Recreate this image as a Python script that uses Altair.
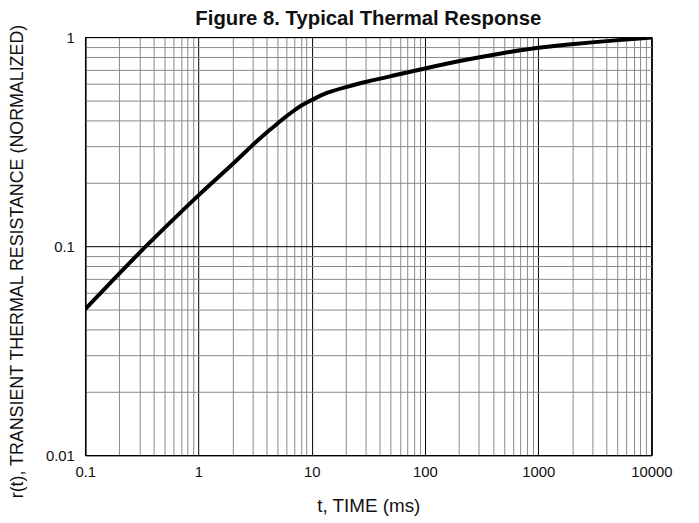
import altair as alt
import pandas as pd

# Curve data
t_ms = [0.1, 0.2, 0.3, 0.5, 1, 2, 3, 4, 5, 6, 7, 8, 10, 13.6, 20, 30, 50, 100, 200, 500, 1000, 2000, 5000, 10000]
r_norm = [0.050, 0.074, 0.093, 0.122, 0.176, 0.246, 0.305, 0.351, 0.386, 0.42, 0.446, 0.47, 0.50, 0.545,
          0.577, 0.612, 0.651, 0.708, 0.77, 0.843, 0.893, 0.927, 0.968, 0.995]

# Grid / tick positions
x_ticks = [round(k * 10.0 ** e, 6) for e in range(-1, 4) for k in range(1, 10)] + [10000]
y_ticks = [round(k * 10.0 ** e, 6) for e in range(-2, 0) for k in range(1, 10)] + [1]
x_labels = ["0.1", "1", "10", "100", "1000", "10000"]
y_labels = ["0.01", "0.1", "1"]

df = pd.DataFrame({"t": t_ms, "r": r_norm})

FONT = "Liberation Sans"
major_test = "abs(log(datum.value)/LN10 - round(log(datum.value)/LN10)) < 1e-6"

x_axis = alt.Axis(
    values=x_ticks,
    format="~g",
    labelExpr="indexof(" + str(x_labels) + ", datum.label) >= 0 ? datum.label : ''",
    labelFont=FONT, labelFontSize=15, labelColor="#111",
    labelOverlap=False, labelFlush=False, labelBound=False,
    labelPadding=10, ticks=False,
    domainColor="#000", domainWidth=1.2,
    grid=True,
    gridColor={"condition": {"test": major_test, "value": "#000"}, "value": "#8a8a8a"},
    gridWidth=1,
    title="t, TIME (ms)", titleFont=FONT, titleFontSize=19, titleFontWeight="normal",
    titleColor="#111", titleBaseline="alphabetic", titleY=57,
)

y_axis = alt.Axis(
    values=y_ticks,
    format="~g",
    labelExpr="indexof(" + str(y_labels) + ", datum.label) >= 0 ? datum.label : ''",
    labelFont=FONT, labelFontSize=15, labelColor="#111",
    labelOverlap=False, labelFlush=False, labelBound=False,
    labelPadding=11, ticks=False,
    domainColor="#000", domainWidth=1.2,
    grid=True,
    gridColor={"condition": {"test": major_test, "value": "#000"}, "value": "#8a8a8a"},
    gridWidth=1,
    title="r(t), TRANSIENT THERMAL RESISTANCE (NORMALIZED)",
    titleFont=FONT, titleFontSize=18, titleFontWeight="normal", titleColor="#111",
    titleBaseline="alphabetic", titleX=-63, titleY=226, titleAngle=270,
)

chart = alt.Chart(df).mark_line(
    color="#000", strokeWidth=4, interpolate="basis", clip=True
).encode(
    x=alt.X("t:Q", scale=alt.Scale(type="log", domain=[0.1, 10000], nice=False), axis=x_axis),
    y=alt.Y("r:Q", scale=alt.Scale(type="log", domain=[0.01, 1], nice=False), axis=y_axis),
).properties(
    width=571.5,
    height=422,
    autosize=alt.AutoSizeParams(type="none"),
    padding={"left": 78, "top": 27, "right": 40, "bottom": 66},
    title=alt.TitleParams(
        "Figure 8. Typical Thermal Response",
        font=FONT, fontSize=20.5, fontWeight="bold", color="#111",
        anchor="middle", offset=0, baseline="alphabetic", dy=22,
    ),
).configure_view(stroke="#000", strokeWidth=1.2)

chart.save("out.html", embed_options={"renderer": "svg", "actions": False})
